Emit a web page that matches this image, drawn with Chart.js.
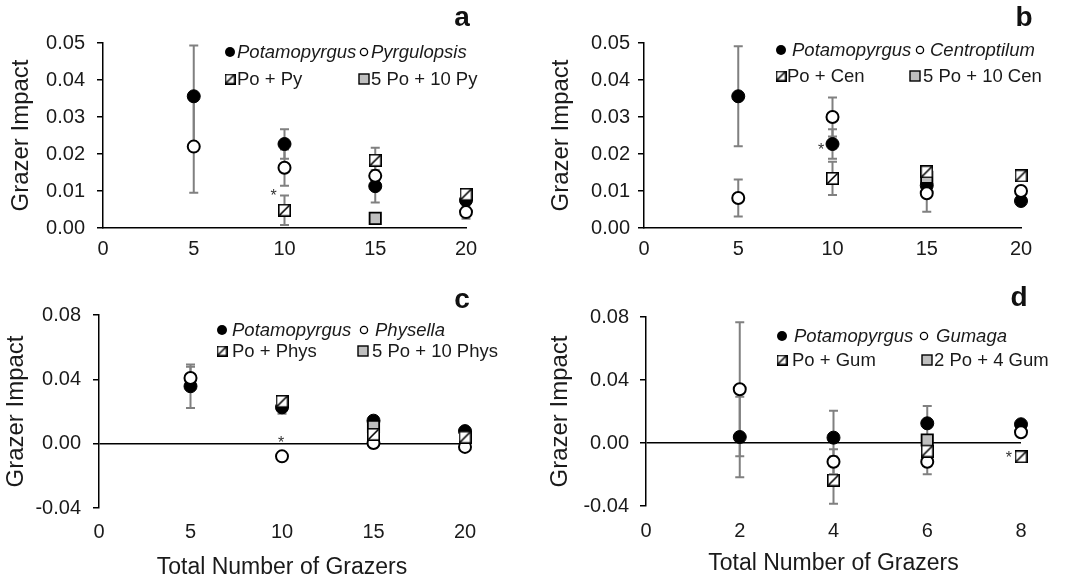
<!DOCTYPE html>
<html>
<head>
<meta charset="utf-8">
<script src="https://cdn.jsdelivr.net/npm/chart.js@4/dist/chart.umd.min.js"></script>
<style>
  body { margin: 0; background: #fff; width: 1068px; height: 582px; position: relative; overflow: hidden; }
  .panel { position: absolute; }
</style>
</head>
<body>
<div class="panel" style="left:0;top:0"><canvas id="chartA" width="534" height="260"></canvas></div>
<div class="panel" style="left:534px;top:0"><canvas id="chartB" width="534" height="260"></canvas></div>
<div class="panel" style="left:0;top:260px"><canvas id="chartC" width="534" height="322"></canvas></div>
<div class="panel" style="left:534px;top:260px"><canvas id="chartD" width="534" height="322"></canvas></div>
<script>
// x positions (total number of grazers)
const grazers20 = [5, 10, 15, 20];
const grazers8 = [2, 4, 6, 8];

// panel a - Potamopyrgus / Pyrgulopsis
const potA = [0.0356, 0.0227, 0.0113, 0.0075];
const potAErr = [0.0137, 0.0040, 0.0044, 0.0010];
const pyrA = [0.0220, 0.0163, 0.0141, 0.0043];
const pyrAErr = [0.0125, 0.0049, 0.0030, 0.0018];
const poPyA = [null, 0.0048, 0.0183, 0.0091];
const poPyAErr = [null, 0.0040, 0.0034, 0.0010];
const mixA = [null, null, 0.0026, null];
const mixAErr = [null, null, 0.0006, null];

// panel b - Potamopyrgus / Centroptilum
const potB = [0.0356, 0.0227, 0.0115, 0.0073];
const potBErr = [0.0135, 0.0040, 0.0020, 0.0010];
const cenB = [0.0081, 0.0300, 0.0094, 0.0100];
const cenBErr = [0.0050, 0.0053, 0.0050, 0.0010];
const poCenB = [null, 0.0134, 0.0152, 0.0141];
const poCenBErr = [null, 0.0045, 0.0010, 0.0008];
const mixB = [null, null, 0.0137, null];
const mixBErr = [null, null, 0.0010, null];

// panel c - Potamopyrgus / Physella
const potC = [0.0357, 0.0226, 0.0143, 0.0078];
const potCErr = [0.0135, 0.0040, 0.0020, 0.0010];
const physC = [0.0408, -0.0079, 0.0004, -0.0020];
const physCErr = [0.0070, 0.0010, 0.0030, 0.0020];
const poPhysC = [null, 0.0263, 0.0058, 0.0040];
const poPhysCErr = [null, 0.0010, 0.0010, 0.0010];
const mixC = [null, null, 0.0107, null];
const mixCErr = [null, null, 0.0010, null];

// panel d - Potamopyrgus / Gumaga
const potD = [0.0038, 0.0034, 0.0125, 0.0119];
const potDErr = [0.0256, 0.0170, 0.0110, 0.0010];
const gumD = [0.0341, -0.0119, -0.0119, 0.0068];
const gumDErr = [0.0425, 0.0080, 0.0080, 0.0010];
const poGumD = [null, -0.0235, -0.0051, -0.0087];
const poGumDErr = [null, 0.0150, 0.0020, 0.0010];
const mixD = [null, null, 0.0019, null];
const mixDErr = [null, null, 0.0020, null];

// significance stars (data coords)
const starA = { x: 9.4, y: 0.0100 };
const starB = { x: 9.4, y: 0.0224 };
const starC = { x: 9.95, y: 0.0037 };
const starD = { x: 7.74, y: -0.0063 };

const TXT = '#1a1a1a';
const FONT = 'Arial, "Liberation Sans", sans-serif';

function hatchIcon(s) {
    const c = document.createElement('canvas');
    c.width = s; c.height = s;
    const g = c.getContext('2d');
    g.fillStyle = '#fff';
    g.fillRect(0, 0, s, s);
    g.strokeStyle = '#000';
    g.lineWidth = 1.6;
    g.strokeRect(0.8, 0.8, s - 1.6, s - 1.6);
    g.beginPath();
    g.moveTo(1.5, s - 1.5);
    g.lineTo(s - 1.5, 1.5);
    g.stroke();
    return c;
}
const hatchBig = hatchIcon(13);
const hatchSmall = hatchIcon(11);

function pts(xs, ys, es) {
    const out = [];
    xs.forEach((x, i) => {
        if (ys[i] !== null) out.push({ x: x, y: ys[i], e: es[i] });
    });
    return out;
}

// listed top-first: dataset 0 is painted last
function buildSets(xs, hatchY, hatchE, greyY, greyE, openY, openE, potY, potE) {
    return [
        { data: pts(xs, hatchY, hatchE), pointStyle: hatchBig, pointRadius: 6.5, showLine: false, clip: false },
        { data: pts(xs, greyY, greyE), pointStyle: 'rect', pointRadius: 8, backgroundColor: '#bfbfbf', borderColor: '#000', pointBorderWidth: 1.8, showLine: false, clip: false },
        { data: pts(xs, openY, openE), pointStyle: 'circle', pointRadius: 6, backgroundColor: '#fff', borderColor: '#000', pointBorderWidth: 2, showLine: false, clip: false },
        { data: pts(xs, potY, potE), pointStyle: 'circle', pointRadius: 6.5, backgroundColor: '#000', borderColor: '#000', pointBorderWidth: 1, showLine: false, clip: false }
    ];
}

function makeChart(id, cfg) {
    const errorBars = {
        id: 'errorBars',
        beforeDatasetsDraw(chart) {
            const { ctx, scales: { x, y } } = chart;
            ctx.save();
            ctx.strokeStyle = '#808080';
            ctx.lineWidth = 2;
            chart.data.datasets.forEach(ds => {
                ds.data.forEach(p => {
                    if (!p.e) return;
                    const px = x.getPixelForValue(p.x);
                    const top = y.getPixelForValue(p.y + p.e);
                    const bot = y.getPixelForValue(p.y - p.e);
                    ctx.beginPath();
                    ctx.moveTo(px, top); ctx.lineTo(px, bot);
                    ctx.moveTo(px - 4.5, top); ctx.lineTo(px + 4.5, top);
                    ctx.moveTo(px - 4.5, bot); ctx.lineTo(px + 4.5, bot);
                    ctx.stroke();
                });
            });
            ctx.restore();
        }
    };

    const overlay = {
        id: 'overlay',
        afterDatasetsDraw(chart) {
            const { ctx, scales: { x, y } } = chart;
            ctx.save();
            // star
            ctx.fillStyle = '#333';
            ctx.font = '16px ' + FONT;
            ctx.textAlign = 'center';
            ctx.textBaseline = 'alphabetic';
            ctx.fillText('*', x.getPixelForValue(cfg.star.x), y.getPixelForValue(cfg.star.y) + 10);

            // legend
            cfg.legend.forEach(item => {
                const mx = item.mx, my = item.y;
                if (item.kind === 'filled') {
                    ctx.beginPath(); ctx.arc(mx, my, 5, 0, Math.PI * 2);
                    ctx.fillStyle = '#000'; ctx.fill();
                } else if (item.kind === 'open') {
                    ctx.beginPath(); ctx.arc(mx, my, 3.6, 0, Math.PI * 2);
                    ctx.fillStyle = '#fff'; ctx.fill();
                    ctx.lineWidth = 1.3; ctx.strokeStyle = '#000'; ctx.stroke();
                } else if (item.kind === 'hatch') {
                    ctx.drawImage(hatchSmall, mx - 5.5, my - 5.5);
                } else {
                    ctx.fillStyle = '#bfbfbf'; ctx.fillRect(mx - 5, my - 5, 10, 10);
                    ctx.lineWidth = 1.4; ctx.strokeStyle = '#000'; ctx.strokeRect(mx - 5, my - 5, 10, 10);
                }
                ctx.fillStyle = TXT;
                ctx.font = (item.italic ? 'italic ' : '') + '18.5px ' + FONT;
                ctx.textAlign = 'left';
                ctx.textBaseline = 'middle';
                ctx.fillText(item.text, item.tx, my + 1);
            });

            // panel letter
            ctx.fillStyle = '#111';
            ctx.font = 'bold 28px ' + FONT;
            ctx.textAlign = 'center';
            ctx.textBaseline = 'middle';
            ctx.fillText(cfg.letter.text, cfg.letter.x, cfg.letter.y);
            ctx.restore();
        }
    };

    const zero = cfg.zeroLine;
    return new Chart(document.getElementById(id), {
        type: 'scatter',
        data: { datasets: cfg.datasets },
        options: {
            responsive: false,
            animation: false,
            events: [],
            layout: { padding: { left: 0, top: cfg.top, right: cfg.right, bottom: 0 } },
            plugins: { legend: { display: false }, tooltip: { enabled: false } },
            scales: {
                x: {
                    type: 'linear',
                    min: cfg.xMin, max: cfg.xMax,
                    ticks: { stepSize: cfg.xStep, padding: cfg.xTickPad, color: TXT, font: { family: FONT, size: 20 }, callback: v => v },
                    grid: { display: false, drawTicks: false },
                    border: { display: !zero, color: '#000', width: 1.5 },
                    title: { display: cfg.xTitle, text: 'Total Number of Grazers', color: TXT, font: { family: FONT, size: 23 }, padding: { top: 0, bottom: cfg.xTitlePad } },
                    afterFit: s => { s.height = cfg.xH; }
                },
                y: {
                    min: cfg.yMin, max: cfg.yMax,
                    ticks: {
                        stepSize: cfg.yStep, padding: cfg.yTickPad, color: TXT, font: { family: FONT, size: 20 },
                        callback: v => Math.abs(v) < 1e-9 ? '0.00' : v.toFixed(2)
                    },
                    grid: {
                        color: c => (zero && c.tick && Math.abs(c.tick.value) < 1e-9) ? '#000' : 'rgba(0,0,0,0)',
                        lineWidth: 1.5, tickColor: '#000', tickLength: 6, tickWidth: 1.5
                    },
                    border: { color: '#000', width: 1.5 },
                    title: { display: true, text: 'Grazer Impact', color: TXT, font: { family: FONT, size: 24 }, padding: { top: cfg.yTitlePad, bottom: 0 } },
                    afterFit: s => { s.width = cfg.left; }
                }
            }
        },
        plugins: [errorBars, overlay]
    });
}

makeChart('chartA', {
    datasets: buildSets(grazers20, poPyA, poPyAErr, mixA, mixAErr, pyrA, pyrAErr, potA, potAErr),
    xMin: 0, xMax: 20, xStep: 5, yMin: 0, yMax: 0.05, yStep: 0.01,
    zeroLine: false, xTitle: false,
    left: 103, top: 43, right: 68, xH: 32,
    xTickPad: 9, yTickPad: 12, yTitlePad: 7, xTitlePad: 0,
    star: starA,
    letter: { text: 'a', x: 462, y: 18 },
    legend: [
        { kind: 'filled', mx: 230, y: 52, tx: 237, text: 'Potamopyrgus', italic: true },
        { kind: 'open', mx: 364, y: 52, tx: 371, text: 'Pyrgulopsis', italic: true },
        { kind: 'hatch', mx: 230, y: 79, tx: 237, text: 'Po + Py' },
        { kind: 'grey', mx: 364, y: 79, tx: 371, text: '5 Po + 10 Py' }
    ]
});

makeChart('chartB', {
    datasets: buildSets(grazers20, poCenB, poCenBErr, mixB, mixBErr, cenB, cenBErr, potB, potBErr),
    xMin: 0, xMax: 20, xStep: 5, yMin: 0, yMax: 0.05, yStep: 0.01,
    zeroLine: false, xTitle: false,
    left: 110, top: 43, right: 47, xH: 32,
    xTickPad: 9, yTickPad: 8, yTitlePad: 13, xTitlePad: 0,
    star: starB,
    letter: { text: 'b', x: 490, y: 18 },
    legend: [
        { kind: 'filled', mx: 247, y: 50, tx: 258, text: 'Potamopyrgus', italic: true },
        { kind: 'open', mx: 386, y: 50, tx: 396, text: 'Centroptilum', italic: true },
        { kind: 'hatch', mx: 247, y: 76, tx: 253, text: 'Po + Cen' },
        { kind: 'grey', mx: 381, y: 76, tx: 389, text: '5 Po + 10 Cen' }
    ]
});

makeChart('chartC', {
    datasets: buildSets(grazers20, poPhysC, poPhysCErr, mixC, mixCErr, physC, physCErr, potC, potCErr),
    xMin: 0, xMax: 20, xStep: 5, yMin: -0.04, yMax: 0.08, yStep: 0.04,
    zeroLine: true, xTitle: true,
    left: 99, top: 55, right: 69, xH: 74,
    xTickPad: 12, yTickPad: 12, yTitlePad: 2, xTitlePad: 1,
    star: starC,
    letter: { text: 'c', x: 462, y: 40 },
    legend: [
        { kind: 'filled', mx: 222, y: 70, tx: 232, text: 'Potamopyrgus', italic: true },
        { kind: 'open', mx: 364, y: 70, tx: 375, text: 'Physella', italic: true },
        { kind: 'hatch', mx: 222, y: 91, tx: 232, text: 'Po + Phys' },
        { kind: 'grey', mx: 363, y: 91, tx: 372, text: '5 Po + 10 Phys' }
    ]
});

makeChart('chartD', {
    datasets: buildSets(grazers8, poGumD, poGumDErr, mixD, mixDErr, gumD, gumDErr, potD, potDErr),
    xMin: 0, xMax: 8, xStep: 2, yMin: -0.04, yMax: 0.08, yStep: 0.04,
    zeroLine: true, xTitle: true,
    left: 112, top: 57, right: 47, xH: 76,
    xTickPad: 13, yTickPad: 11, yTitlePad: 12, xTitlePad: 5,
    star: starD,
    letter: { text: 'd', x: 485, y: 38 },
    legend: [
        { kind: 'filled', mx: 248, y: 76, tx: 260, text: 'Potamopyrgus', italic: true },
        { kind: 'open', mx: 390, y: 76, tx: 402, text: 'Gumaga', italic: true },
        { kind: 'hatch', mx: 248, y: 100, tx: 258, text: 'Po + Gum' },
        { kind: 'grey', mx: 393, y: 100, tx: 400, text: '2 Po + 4 Gum' }
    ]
});
</script>
</body>
</html>
